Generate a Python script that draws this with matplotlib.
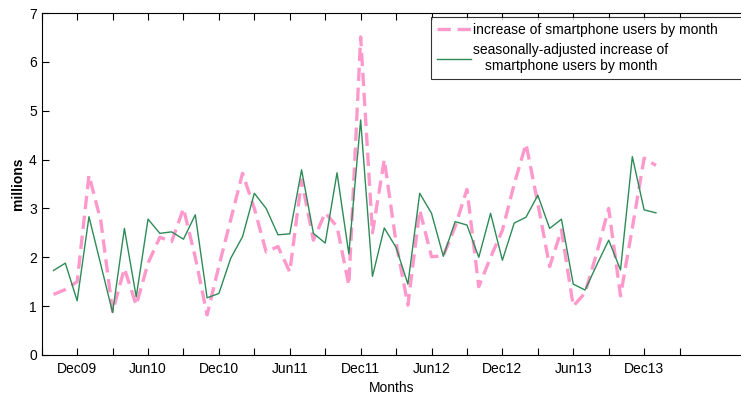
import matplotlib
matplotlib.use('Agg')
import matplotlib.pyplot as plt

# months from Oct09 to Jan14 (index 0 = Oct09)
raw_increase = [1.24, 1.34, 1.50, 3.68, 2.75, 0.89, 1.77, 1.02, 1.88, 2.41,
                2.32, 3.00, 2.00, 0.82, 1.82, 2.77, 3.72, 3.00, 2.11, 2.22,
                1.70, 3.58, 2.35, 2.91, 2.63, 1.43, 6.51, 2.50, 4.00, 2.30,
                1.02, 2.97, 2.01, 2.03, 2.63, 3.39, 1.40, 2.00, 2.55, 3.50,
                4.32, 3.10, 1.81, 2.56, 1.00, 1.27, 2.10, 3.00, 1.21, 2.60,
                4.03, 3.88]
adjusted_increase = [1.73, 1.88, 1.11, 2.83, 1.85, 0.87, 2.59, 1.19, 2.78, 2.49,
                     2.52, 2.37, 2.87, 1.17, 1.26, 1.98, 2.42, 3.31, 3.00, 2.46,
                     2.48, 3.79, 2.49, 2.29, 3.73, 2.07, 4.81, 1.61, 2.60, 2.20,
                     1.45, 3.31, 2.90, 2.02, 2.73, 2.66, 2.00, 2.90, 1.94, 2.70,
                     2.82, 3.27, 2.59, 2.78, 1.45, 1.33, 1.85, 2.35, 1.74, 4.06,
                     2.97, 2.91]

tick_pos = list(range(-1, 54, 3))
tick_names = ['', 'Dec09', '', 'Jun10', '', 'Dec10', '', 'Jun11', '', 'Dec11',
              '', 'Jun12', '', 'Dec12', '', 'Jun13', '', 'Dec13', '']

plt.rcParams['font.family'] = ['Liberation Sans', 'DejaVu Sans']

fig = plt.figure(figsize=(7.41, 3.94), dpi=100)
ax = fig.add_axes([0.0563, 0.099, 0.9437, 0.868])

months = list(range(len(raw_increase)))
ax.plot(months, raw_increase, color='#ff99cc', linewidth=2.4,
        dashes=(4, 2), label='increase of smartphone users by month')
ax.plot(months, adjusted_increase, color='#2e8b57', linewidth=1.0,
        label='seasonally-adjusted increase of\nsmartphone users by month')

ax.set_xlim(-0.95, 58.2)
ax.set_ylim(0, 7)
ax.set_xticks(tick_pos)
ax.set_xticklabels(tick_names)
ax.set_yticks(range(0, 8))
ax.tick_params(direction='in', length=5, top=True, labelsize=10, width=0.8)
ax.tick_params(axis='x', pad=5)
ax.spines['right'].set_visible(False)

ax.set_xlabel('Months', fontsize=10, labelpad=4)
ax.set_ylabel('millions', fontsize=10, fontweight='bold', labelpad=3)

# legend box runs past the right edge, as in the cropped original
leg = ax.legend(loc='upper left', bbox_to_anchor=(0.5568, 0.988, 0.46, 0.0),
                mode='expand', fontsize=10, frameon=True, fancybox=False,
                edgecolor='black', handlelength=2.4, handletextpad=0.2,
                borderpad=0.45, labelspacing=0.4, borderaxespad=0.0)
leg.get_frame().set_linewidth(0.8)
for t in leg.get_texts():
    t.set_multialignment('center')

fig.savefig('out.png', dpi=100)
